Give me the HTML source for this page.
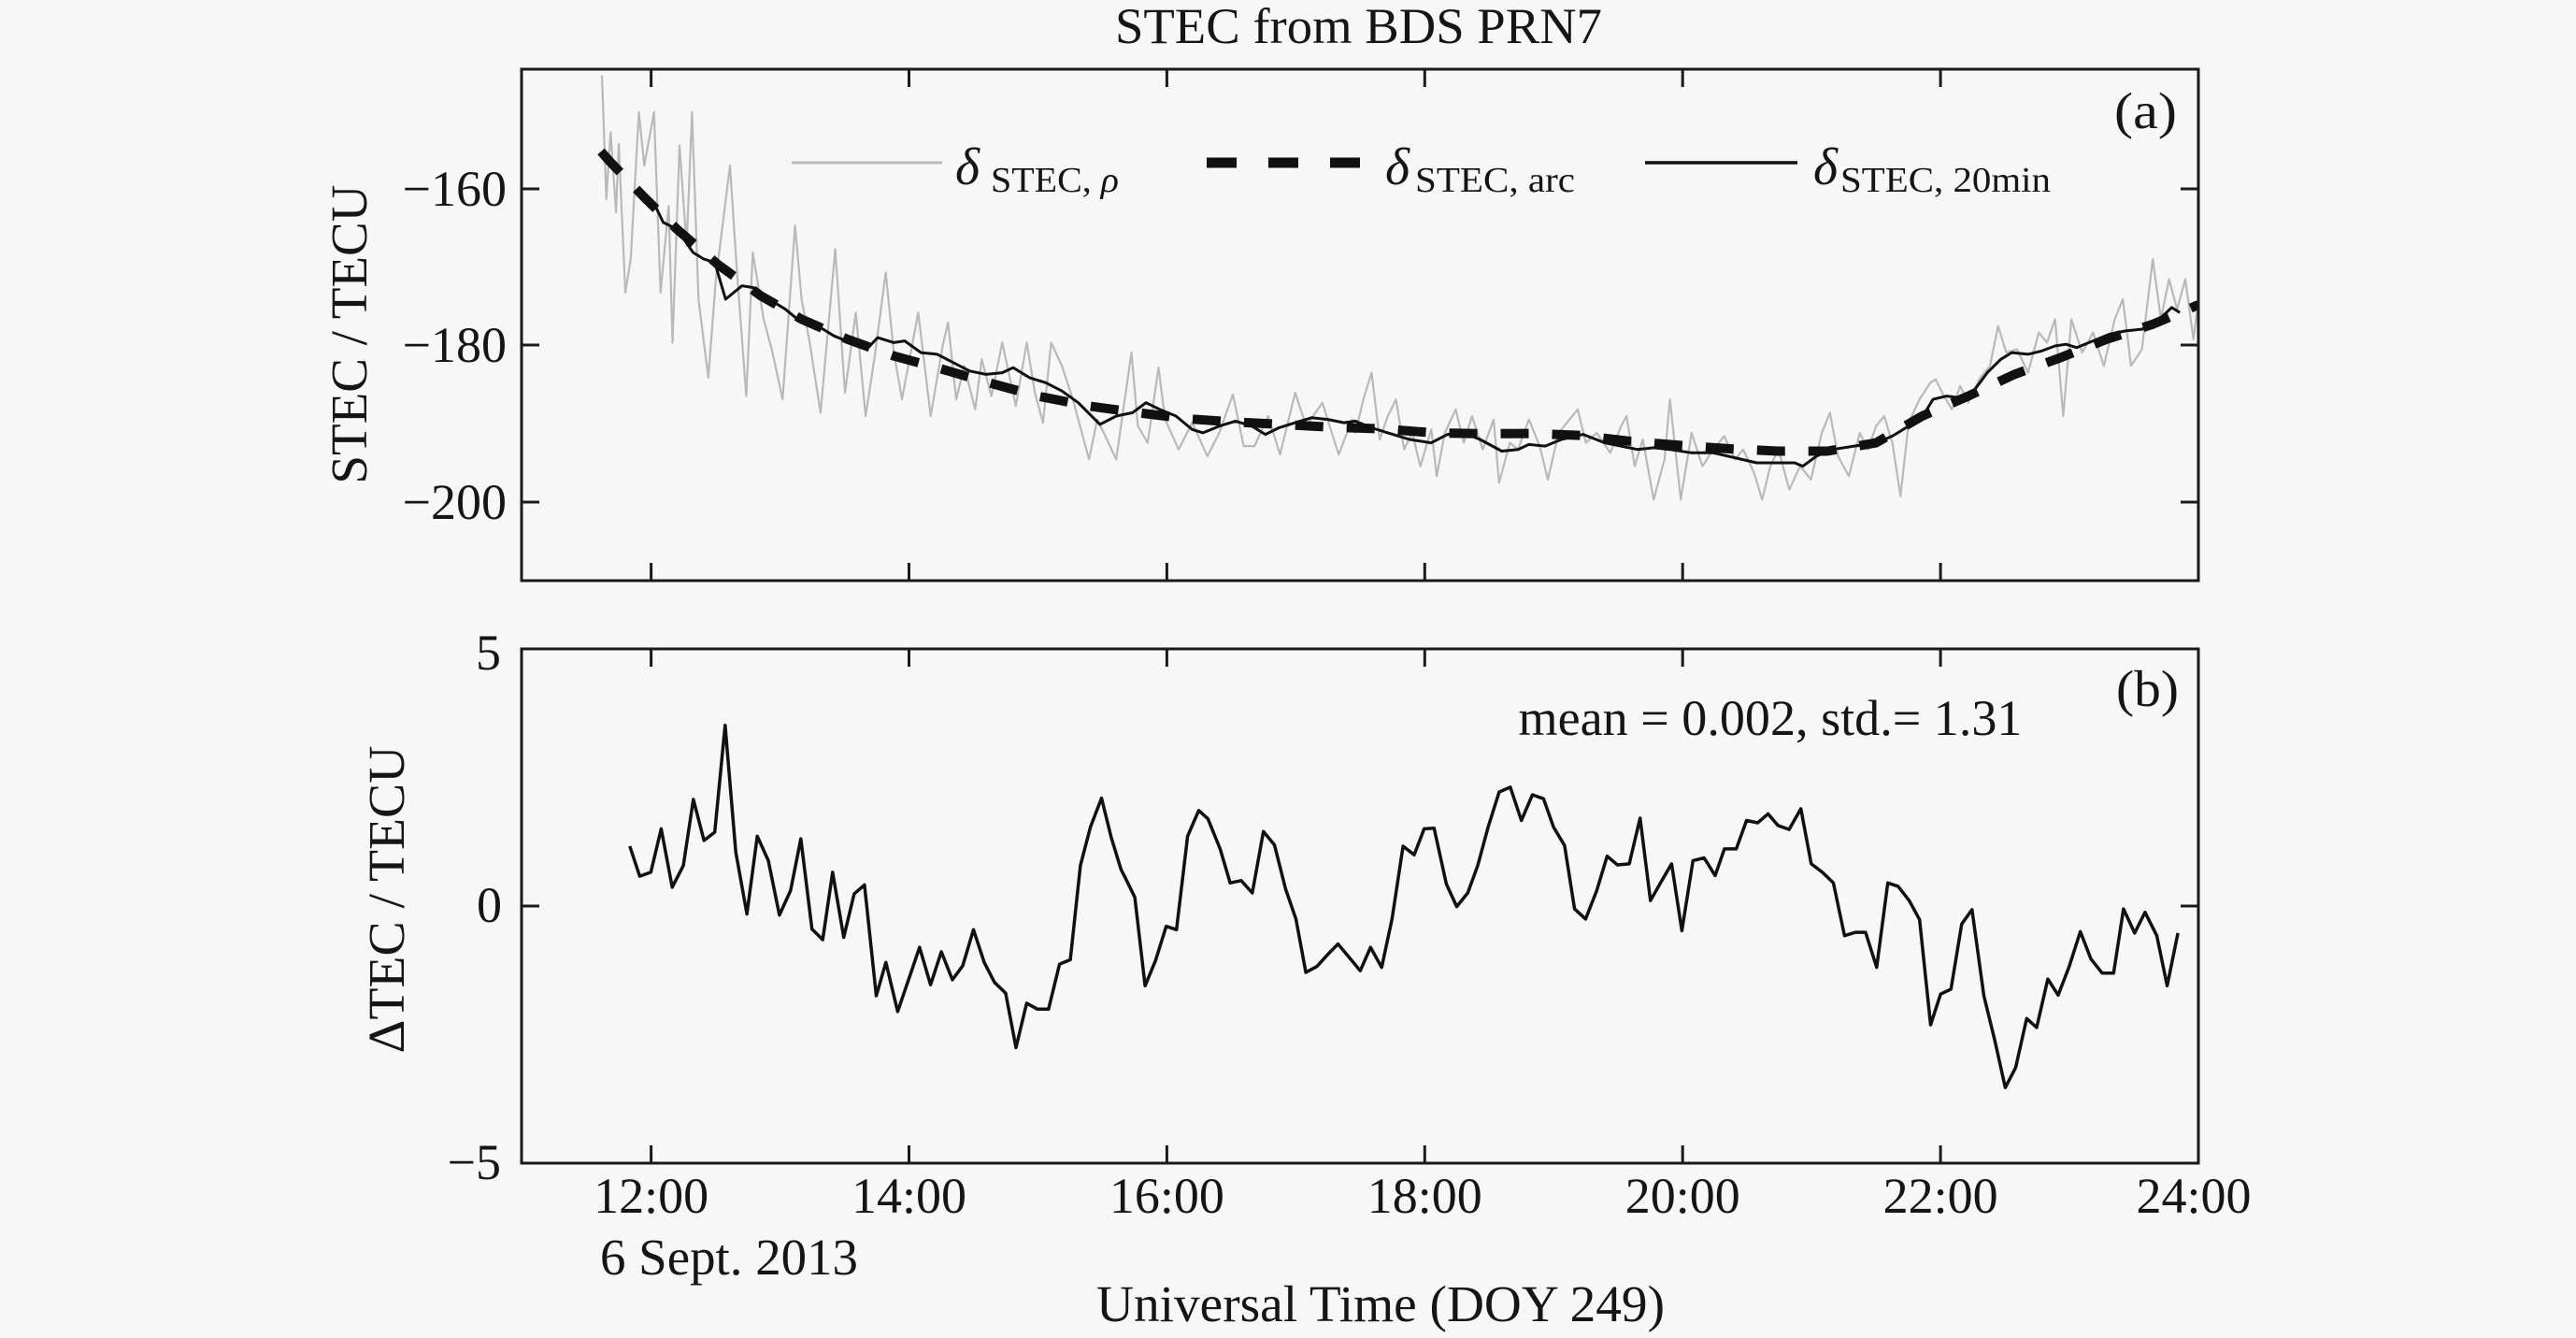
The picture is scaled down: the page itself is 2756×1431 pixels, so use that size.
<!DOCTYPE html>
<html><head><meta charset="utf-8"><style>html,body{margin:0;padding:0;background:#f7f7f7}svg{display:block}</style></head>
<body>
<svg width="2756" height="1431" viewBox="0 0 2756 1431" xmlns="http://www.w3.org/2000/svg" font-family="'Liberation Serif', 'DejaVu Serif', serif" fill="#151515">
<rect x="0" y="0" width="2756" height="1431" fill="#f7f7f7"/>
<defs>
<clipPath id="ca"><rect x="558" y="74" width="1794" height="547"/></clipPath>
<clipPath id="cb"><rect x="558" y="694" width="1794" height="550"/></clipPath>
</defs>

<!-- Title -->
<text x="1193" y="46" font-size="54" textLength="521" lengthAdjust="spacingAndGlyphs">STEC from BDS PRN7</text>

<!-- Panel (a) data -->
<g clip-path="url(#ca)">
<polyline fill="none" stroke="#b9b9b9" stroke-width="2.2" stroke-linejoin="round" points="644.0,80.7 648.7,212.9 653.3,141.4 659.1,227.1 662.0,153.9 669.0,312.9 674.8,277.1 683.5,120 689.3,177.1 699.7,120 706.7,312.9 715.4,220 719.5,366.4 727.0,155.7 734.6,262.9 740.4,120 747.3,320 757.8,403.9 765.9,298.6 781.0,177.1 788.0,284.3 798.4,423.6 805.4,270 817.0,341.4 825.7,373.6 837.3,427.1 850.6,241.4 857.6,320 866.3,366.4 877.9,441.4 893.6,266.4 904.0,420 915.6,334.3 926.1,445 935.9,380.7 947.6,291.4 956.3,377.1 965.0,427.1 982.4,334.3 995.7,445 1008.5,370 1014.3,345 1023.0,427.1 1031.7,391.4 1043.3,437.9 1050.3,384.3 1060.7,423.6 1072.3,366.4 1086.8,434.3 1098.5,366.4 1107.2,420 1115.9,452.1 1124.6,366.4 1136.2,391.4 1147.8,427.1 1165.2,491.4 1173.9,448.6 1182.6,466.4 1194.2,491.4 1210.5,377.1 1217.4,455.7 1227.9,473.6 1239.5,393.2 1246.5,448.6 1261.0,480.7 1275.5,452.1 1291.7,487.9 1304.5,462.9 1319.0,421.8 1330.6,477.1 1342.2,477.1 1356.7,445 1369.5,486.1 1385.7,420 1397.4,455.7 1414.8,430.7 1432.2,486.1 1446.7,448.6 1450.0,462.9 1458.7,427.1 1467.4,398.6 1476.1,470 1484.8,445 1493.5,427.1 1502.2,480.7 1510.9,462.9 1519.6,498.6 1531.3,459.3 1537.1,509.3 1545.8,462.9 1557.4,437.9 1566.1,473.6 1574.8,445 1586.4,480.7 1598.0,448.6 1603.8,516.4 1615.4,473.6 1624.1,480.7 1635.7,448.6 1647.3,477.1 1656.0,512.9 1667.6,462.9 1676.3,452.1 1688.0,437.9 1696.7,473.6 1708.3,462.9 1722.8,484.3 1734.4,455.7 1740.2,445 1748.9,498.6 1757.6,470 1769.2,534.3 1780.8,491.4 1786.6,427.1 1798.2,534.3 1809.8,462.9 1821.4,498.6 1833.0,480.7 1844.7,466.4 1856.3,491.4 1865.0,480.7 1876.6,505.7 1885.3,534.3 1894.0,498.6 1902.7,480.7 1914.3,523.6 1925.9,498.6 1937.5,512.9 1949.1,462.9 1957.8,441.4 1966.5,487.9 1978.1,509.3 1989.7,462.9 1998.5,480.7 2007.2,455.7 2015.9,445 2024.6,473.6 2033.3,530.7 2042.0,452.1 2053.6,427.1 2065.2,409.3 2071.0,405.7 2079.7,423.6 2088.4,437.9 2097.1,412.9 2105.8,430.7 2117.4,405.7 2129.0,391.4 2137.7,348.6 2146.5,377.1 2158.1,373.6 2169.7,398.6 2181.3,355.7 2190.0,366.4 2198.7,341.4 2207.4,445 2216.1,341.4 2227.7,377.1 2239.3,355.7 2250.9,391.4 2262.5,341.4 2271.2,320 2279.9,391.4 2291.6,373.6 2303.2,277.1 2311.9,341.4 2320.6,298.6 2329.3,330.7 2338.0,298.6 2346.7,362.9 2352.0,320"/>
<polyline fill="none" stroke="#111" stroke-width="10" stroke-dasharray="30 25" stroke-linejoin="round" points="643,162 651.6,171.8 689.3,211.1 724.1,245 767.6,282.5 814.1,316.4 857.6,341.4 906.9,362.9 956.3,380.7 1008.5,395 1057.8,409.3 1110.1,423.6 1165.2,434.3 1217.4,441.4 1269.7,447.9 1321.9,451.4 1371.2,453.9 1423.5,456.8 1476.1,458.6 1534.2,462.9 1586.4,463.9 1638.6,463.6 1690.9,465.7 1743.1,471.8 1798.2,476.4 1850.5,480 1902.7,482.5 1954.9,482.5 2007.2,473.6 2056.5,445 2105.8,423.6 2155.2,400.4 2204.5,382.5 2253.8,362.9 2303.2,346.8 2352,326"/>
<polyline fill="none" stroke="#111" stroke-width="3" stroke-linejoin="round" points="680.6,205 700.9,220 709.6,237.9 724.1,245 741.5,270 753.1,277.1 764.7,280.7 776.3,320 793.8,305.7 805.4,307.5 822.8,320 840.2,330.7 857.6,345 875,348.6 892.4,359.3 909.8,366.4 927.2,373.6 938.9,361.1 956.3,366.4 967.9,364.6 985.3,377.1 1002.7,378.9 1020.1,387.9 1037.5,396.8 1054.9,400.4 1072.3,398.6 1083.9,393.2 1101.4,403.9 1118.8,409.3 1136.2,418.2 1153.6,430.7 1176.8,453.9 1194.2,445 1211.6,441.4 1226.1,430.7 1240.7,437.9 1258.1,445 1275.5,459.3 1287.1,462.9 1304.5,455.7 1321.9,450.4 1339.3,455.7 1353.8,464.6 1368.3,457.5 1385.7,452.1 1403.2,446.8 1420.6,448.6 1438,452.1 1450,450.4 1467.4,457.5 1484.8,462.9 1508,470 1531.3,473.6 1548.7,464.6 1566.1,462.9 1583.5,470 1606.7,482.5 1624.1,480.7 1635.7,475.4 1653.1,477.1 1670.5,470 1693.8,464.6 1717,473.6 1734.4,477.1 1751.8,480.7 1769.2,478.9 1786.6,480.7 1809.8,484.3 1833,484.3 1856.3,489.6 1879.5,495 1902.7,495 1920.1,495 1928.8,498.6 1943.3,487.9 1960.7,480.7 1983.9,477.1 2007.2,473.6 2024.6,466.4 2042,455.7 2059.4,441.4 2068.1,427.1 2082.6,423.6 2097.1,425.4 2111.6,418.2 2126.1,398.6 2140.6,384.3 2152.3,377.1 2169.7,378.9 2184.2,375.4 2198.7,370 2210.3,368.2 2221.9,371.8 2239.3,364.6 2256.7,357.5 2274.2,353.9 2291.6,352.1 2306.1,345 2317.7,334.3 2323.5,328.9 2332.2,334.3"/>
</g>

<!-- Panel (a) frame & ticks -->
<rect x="558" y="74" width="1794" height="547" fill="none" stroke="#1a1a1a" stroke-width="3"/>
<g stroke="#1a1a1a" stroke-width="3">
<path d="M696.6,74v19 M972.5,74v19 M1248.4,74v19 M1524.3,74v19 M1800.2,74v19 M2076.1,74v19
M696.6,621v-19 M972.5,621v-19 M1248.4,621v-19 M1524.3,621v-19 M1800.2,621v-19 M2076.1,621v-19
M558,202h19 M558,369h19 M558,537h19 M2352,202h-19 M2352,369h-19 M2352,537h-19"/>
</g>

<!-- Legend -->
<line x1="847" y1="174" x2="1008" y2="174" stroke="#b9b9b9" stroke-width="3"/>
<rect x="1291" y="168.5" width="32" height="11" fill="#111"/>
<rect x="1357" y="168.5" width="32" height="11" fill="#111"/>
<rect x="1423" y="168.5" width="32" height="11" fill="#111"/>
<line x1="1760" y1="174" x2="1923" y2="174" stroke="#111" stroke-width="3.6"/>
<text x="1022" y="197" font-size="56" font-style="italic">δ</text>
<text x="1060" y="205" font-size="38" textLength="137" lengthAdjust="spacingAndGlyphs">STEC, <tspan font-style="italic">ρ</tspan></text>
<text x="1482" y="197" font-size="56" font-style="italic">δ</text>
<text x="1514" y="205" font-size="38" textLength="171" lengthAdjust="spacingAndGlyphs">STEC, arc</text>
<text x="1940" y="197" font-size="56" font-style="italic">δ</text>
<text x="1969" y="205" font-size="38" textLength="225" lengthAdjust="spacingAndGlyphs">STEC, 20min</text>
<text x="2262" y="137" font-size="55" textLength="67" lengthAdjust="spacingAndGlyphs">(a)</text>

<!-- Panel (a) y tick labels -->
<g font-size="54" text-anchor="end">
<text x="542" y="220">−160</text>
<text x="542" y="387">−180</text>
<text x="542" y="555">−200</text>
</g>
<text transform="translate(392,357.6) rotate(-90)" font-size="55" text-anchor="middle" textLength="320" lengthAdjust="spacingAndGlyphs">STEC / TECU</text>

<!-- Panel (b) -->
<g clip-path="url(#cb)">
<polyline fill="none" stroke="#111" stroke-width="3.5" stroke-linejoin="round" points="673.8,905 684.4,937.1 696.3,932.9 707.4,886.4 719.2,948.9 731.1,925.7 741.8,855 753.2,898.9 764.7,890 775.8,775.7 787.2,911.4 799.1,977.5 810.2,894.3 822,920.4 833.9,978.6 845.8,952.5 856.8,897.1 868.7,993.6 880.2,1005 890.8,932.9 902.7,1002.5 913.8,956.1 924.9,946.4 937.5,1065 947.8,1029.3 960.4,1081.8 972.3,1047.1 983.8,1013.2 995.6,1053.2 1007.1,1017.9 1019,1047.9 1030,1032.9 1041.5,994.3 1053,1029.3 1064,1050.7 1075.9,1062.1 1087,1120.4 1098.4,1072.9 1109.9,1079.3 1121.8,1079.3 1133.6,1031.1 1145.1,1026.4 1155.9,925.7 1166.6,884.6 1178.5,853.6 1188.8,895.4 1199.4,930 1205.4,941.8 1214.1,959.6 1225.1,1054.3 1236.2,1027.5 1247.7,990.7 1258.7,994.3 1270.6,894.3 1282.5,866.8 1292.3,875.7 1305.4,907.9 1316.1,944.3 1327.9,941.8 1339.8,955 1351.7,889.3 1363.5,903.6 1375.4,950.7 1386.5,982.9 1397.1,1040 1409,1033.6 1420.9,1020.4 1431.5,1009.6 1443.4,1023.9 1455.3,1038.2 1466.3,1013.2 1478.2,1034.6 1489.3,982.9 1501.1,905 1513,914.3 1523.7,886.4 1534.3,885.7 1547.4,945.4 1558.5,969.6 1570.3,955 1581,925.7 1592.1,884.6 1603.9,847.1 1615.8,841.8 1627.7,877.5 1639.5,850 1651.4,854.3 1662.1,884.6 1673.9,904.3 1684.6,972.1 1696.4,982.9 1708.3,952.5 1719.4,915.7 1730.5,925 1743.1,923.9 1754.7,875 1765.8,963.2 1776.9,943.6 1788.4,923.9 1799.4,995.4 1811.3,920.4 1823.2,917.5 1835,936.4 1844.9,907.9 1857.6,907.9 1868.6,877.5 1880.5,880 1891.6,870.4 1902.2,882.9 1914.1,887.1 1926.7,865 1937.8,923.9 1949.7,932.9 1961.5,944.3 1973.4,1000.7 1985.3,997.1 1995.9,997.1 2007.8,1034.6 2019.7,944.3 2030.7,947.9 2042.6,963.2 2053.7,983.6 2065.5,1096.1 2076.2,1063.2 2087.3,1057.9 2098.8,988.2 2109.8,972.9 2122.5,1065 2134.3,1113.2 2145.4,1163.2 2156.5,1141.8 2168.3,1089.3 2179,1098.9 2190.9,1047.1 2202,1064.3 2213.8,1033.6 2225.7,996.4 2237.1,1025.7 2249,1040.7 2261.3,1040.7 2271.9,972.1 2283.8,997.9 2294.9,975.7 2307.5,1000.7 2318.6,1054.3 2330.1,997.9"/>
</g>
<rect x="558" y="694" width="1794" height="550" fill="none" stroke="#1a1a1a" stroke-width="3"/>
<g stroke="#1a1a1a" stroke-width="3">
<path d="M696.6,694v19 M972.5,694v19 M1248.4,694v19 M1524.3,694v19 M1800.2,694v19 M2076.1,694v19
M696.6,1244v-19 M972.5,1244v-19 M1248.4,1244v-19 M1524.3,1244v-19 M1800.2,1244v-19 M2076.1,1244v-19
M558,969h19 M2352,969h-19"/>
</g>
<text x="1624.5" y="786" font-size="54" textLength="539" lengthAdjust="spacingAndGlyphs">mean = 0.002, std.= 1.31</text>
<text x="2264" y="755" font-size="55" textLength="67" lengthAdjust="spacingAndGlyphs">(b)</text>

<g font-size="54" text-anchor="end">
<text x="536" y="716">5</text>
<text x="537" y="986">0</text>
<text x="536" y="1261">−5</text>
</g>
<text transform="translate(432,962) rotate(-90)" font-size="55" text-anchor="middle" textLength="329" lengthAdjust="spacingAndGlyphs">ΔTEC / TECU</text>

<!-- X tick labels -->
<g font-size="54" text-anchor="middle">
<text x="696.6" y="1297">12:00</text>
<text x="972.5" y="1297">14:00</text>
<text x="1248.4" y="1297">16:00</text>
<text x="1524.3" y="1297">18:00</text>
<text x="1800.2" y="1297">20:00</text>
<text x="2076.1" y="1297">22:00</text>
<text x="2347" y="1297">24:00</text>
</g>
<text x="642" y="1363" font-size="55" textLength="276" lengthAdjust="spacingAndGlyphs">6 Sept. 2013</text>
<text x="1173" y="1413" font-size="55" textLength="608" lengthAdjust="spacingAndGlyphs">Universal Time (DOY 249)</text>
</svg>
</body></html>
